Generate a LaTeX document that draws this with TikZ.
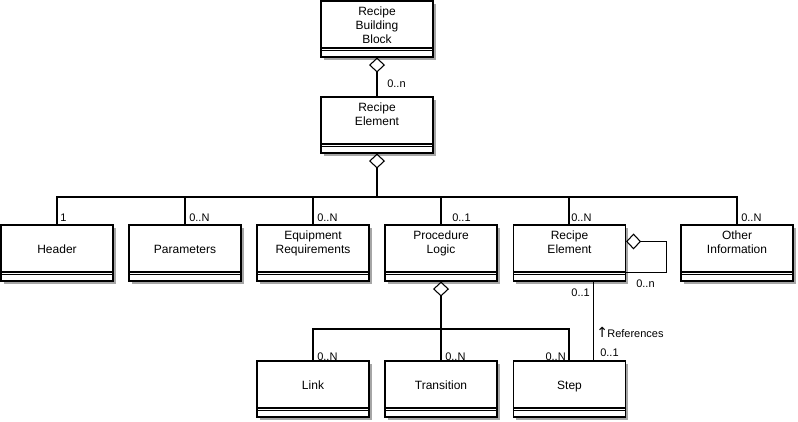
\documentclass[tikz,border=0pt]{standalone}
\usepackage{fontspec}
\setmainfont{Liberation Sans}
\newfontfamily\arrowfont{DejaVu Sans}
\usetikzlibrary{arrows.meta,shadows,calc}
% #1: height of the first line (places its baseline), #2: the class name
\newcommand{\clsname}[2]{\parbox[c][42pt][t]{84pt}{\centering\rule{0pt}{#1}#2}}
\tikzset{
 cls/.style={draw, line width=0.8pt, fill=white, inner sep=0pt,
   font=\fontsize{9}{10.5}\selectfont,
   drop shadow={shadow xshift=2pt, shadow yshift=-2pt, fill=black!35, opacity=1},
   path picture={
     \draw[line width=0.8pt] ([yshift=6.75pt]path picture bounding box.south west) -- ([yshift=6.75pt]path picture bounding box.south east);
     \draw[line width=0.5pt] ([yshift=5pt]path picture bounding box.south west) -- ([yshift=5pt]path picture bounding box.south east);}},
 conn/.style={line width=0.8pt},
 agg/.style={conn, -{Diamond[open, length=11.25pt, width=12pt, line width=0.8pt]}},
 mult/.style={font=\fontsize{8.25}{10}\selectfont, inner sep=0pt, anchor=west},
}
\begin{document}
\begin{tikzpicture}[x=0.75pt, y=-0.75pt]
\useasboundingbox (0,0) rectangle (798,421);
% classes
\node[cls] (rbb) at (377,29) {\clsname{10.6pt}{Recipe\\Building\\Block}};
\node[cls] (re) at (377,125) {\clsname{10.6pt}{Recipe\\Element}};
\node[cls] (hdr) at (57,253) {\clsname{21.2pt}{Header}};
\node[cls] (par) at (185,253) {\clsname{21.2pt}{Parameters}};
\node[cls] (eqr) at (313,253) {\clsname{10.6pt}{Equipment\\Requirements}};
\node[cls] (pl) at (441,253) {\clsname{10.6pt}{Procedure\\Logic}};
\node[cls] (re2) at (569.5,253) {\clsname{10.6pt}{Recipe\\Element}};
\node[cls] (oth) at (737,253) {\clsname{10.6pt}{Other\\Information}};
\node[cls] (lnk) at (313,389) {\clsname{21.2pt}{Link}};
\node[cls] (trn) at (441,389) {\clsname{21.2pt}{Transition}};
\node[cls] (stp) at (569.5,389) {\clsname{21.2pt}{Step}};
% connectors
\draw[agg] (re.north) -- (rbb.south);
\coordinate (bus1) at (377,197);
\draw[agg] (bus1) -- (re.south);
\draw[conn] (hdr.north) |- (bus1) -| (oth.north);
\draw[conn] (par.north) -- (par.north |- bus1);
\draw[conn] (eqr.north) -- (eqr.north |- bus1);
\draw[conn] (pl.north) -- (pl.north |- bus1);
\draw[conn] ($(re2.north)+(-0.5,0)$) -- ($(re2.north |- bus1)+(-0.5,0)$);
\coordinate (bus2) at (441,329);
\draw[agg] (bus2) -- (pl.south);
\draw[conn] (lnk.north) |- (bus2) -| ($(stp.north)+(-0.5,0)$);
\draw[conn] (trn.north) -- (bus2);
\draw[conn] ($(re2.south)+(24,0)$) -- ($(stp.north)+(24,0)$);
\draw[agg] ($(re2.south east)+(0,-9)$) -- ++(40,0) |- ($(re2.north east)+(0,17)$);
% multiplicities
\node[mult] (m1) at (387,84) {0..n};
\node[mult] (m2) at (60,218) {1};
\node[mult] (m3) at (189,218) {0..N};
\node[mult] (m4) at (317,218) {0..N};
\node[mult] (m5) at (452,218) {0..1};
\node[mult] (m6) at (571,218) {0..N};
\node[mult] (m7) at (741,218) {0..N};
\node[mult] (m8) at (636,284) {0..n};
\node[mult, anchor=east] (m9) at (590,293) {0..1};
\node[mult] (m10) at (596,332) {{\arrowfont\fontsize{10.5}{10}\selectfont ↑}\kern-0.5pt References};
\node[mult] (m11) at (600,353) {0..1};
\node[mult] (m12) at (317,357) {0..N};
\node[mult] (m13) at (445,357) {0..N};
\node[mult, anchor=east] (m14) at (566,357) {0..N};
\end{tikzpicture}
\end{document}
